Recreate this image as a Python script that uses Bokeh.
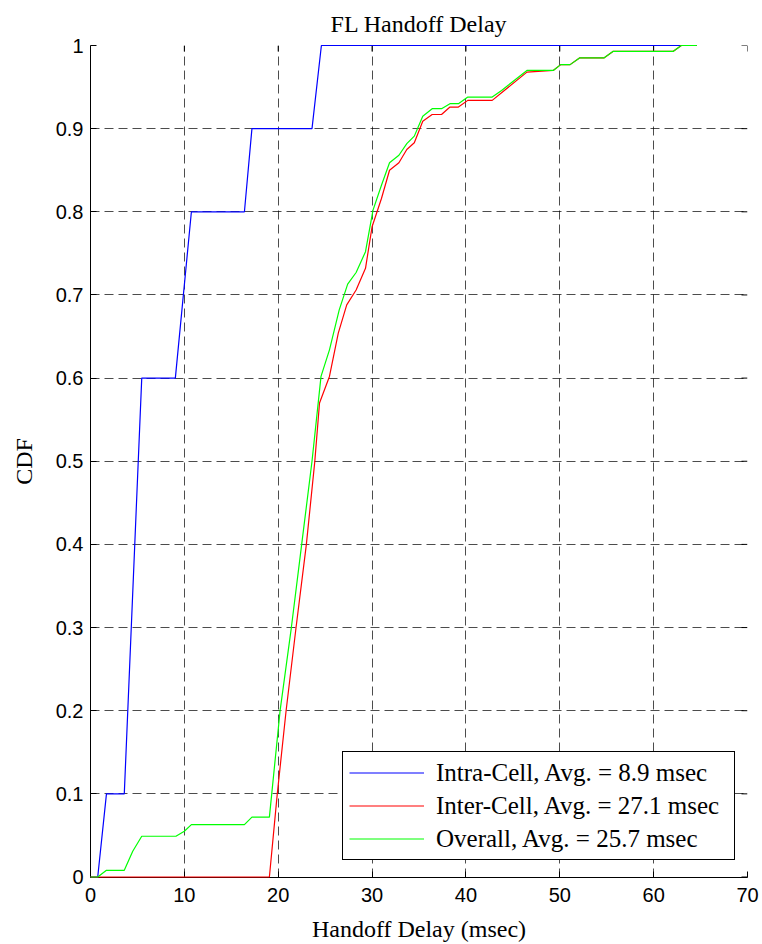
import math
from bokeh.plotting import figure
from bokeh.models import (Range1d, FixedTicker, NumeralTickFormatter,
                          Legend, LegendItem)
from bokeh.embed import file_html
from bokeh.resources import INLINE

# ---- data ----
intra_x = [0, 0.77, 1.7, 3.6, 5.46, 9.04, 10.75, 16.4, 17.2, 23.6, 24.6, 64.6]
intra_y = [0, 0, 0.1, 0.1, 0.6, 0.6, 0.8, 0.8, 0.9, 0.9, 1.0, 1.0]

inter_x = [0, 19.06, 19.9, 20.84, 21.9, 23.0, 23.9, 24.4, 25.46, 26.4, 27.3, 28.3,
           29.3, 30.0, 31.0, 31.86, 32.86, 33.7, 34.5, 35.4, 36.4, 37.4, 38.3, 39.2,
           40.2, 42.8, 46.5, 49.3, 50.1, 51.1, 52.1, 54.7, 55.7, 62.1, 62.95, 64.6]
inter_y = [0, 0, 0.1, 0.2, 0.3, 0.4, 0.5, 0.570, 0.602, 0.654, 0.688, 0.706,
           0.732, 0.782, 0.816, 0.850, 0.859, 0.875, 0.883, 0.909, 0.917, 0.917, 0.926, 0.926,
           0.934, 0.934, 0.968, 0.970, 0.977, 0.977, 0.985, 0.985, 0.993, 0.993, 1.0, 1.0]

overall_x = [0, 0.77, 1.7, 3.6, 4.5, 5.46, 9.1, 10.0, 10.75, 16.4, 17.2, 19.06,
             20.2, 21.4, 22.5, 23.6, 24.56, 25.46, 26.5, 27.4, 28.3, 29.3, 30.1, 31.0,
             31.86, 32.86, 33.7, 34.5, 35.4, 36.4, 37.4, 38.3, 39.2, 40.2, 42.8, 43.8,
             44.6, 46.5, 49.3, 50.1, 51.1, 52.1, 54.7, 55.7, 62.1, 62.95, 64.6]
overall_y = [0, 0, 0.008, 0.008, 0.031, 0.049, 0.049, 0.055, 0.063, 0.063, 0.072, 0.072,
             0.2, 0.3, 0.4, 0.5, 0.602, 0.634, 0.682, 0.713, 0.727, 0.752, 0.802, 0.832,
             0.859, 0.868, 0.882, 0.891, 0.915, 0.924, 0.924, 0.930, 0.930, 0.938, 0.938, 0.946,
             0.953, 0.970, 0.970, 0.977, 0.977, 0.985, 0.985, 0.993, 0.993, 1.0, 1.0]

series_labels = ["Intra-Cell, Avg. = 8.9 msec",
                 "Inter-Cell, Avg. = 27.1 msec",
                 "Overall, Avg. = 25.7 msec"]

x_ticks = [0, 10, 20, 30, 40, 50, 60, 70]
y_ticks = [0, 0.1, 0.2, 0.3, 0.4, 0.5, 0.6, 0.7, 0.8, 0.9, 1.0]
x_min, x_max = 0, 70
y_min, y_max = -0.0006, 1   # tiny pad so the y=0 segments sit on the axis

title_text = "FL Handoff Delay"
x_label = "Handoff Delay (msec)"
y_label = "CDF"

SERIF = "Liberation Serif"
SANS = "Liberation Sans"

p = figure(width=762, height=944, output_backend="svg", toolbar_location=None,
           x_range=Range1d(x_min, x_max), y_range=Range1d(y_min, y_max),
           min_border_left=90, min_border_right=15, min_border_top=45, min_border_bottom=66)
p.background_fill_color = "white"
p.border_fill_color = "white"
p.outline_line_color = None

p.title.text = title_text
p.title.align = "center"
p.title.vertical_align = "top"
p.title.text_line_height = 0.4
p.title.text_font = SERIF
p.title.text_font_size = "24px"
p.title.text_font_style = "normal"
p.title.text_color = "black"
p.title.standoff = 14

xt = FixedTicker(ticks=x_ticks)
yt = FixedTicker(ticks=y_ticks)
fmt = NumeralTickFormatter(format="0.[0]")

for ax, tk in ((p.xaxis[0], xt), (p.yaxis[0], yt)):
    ax.ticker = tk
    ax.formatter = fmt
    ax.major_tick_in = 6
    ax.major_tick_out = 0
    ax.minor_tick_line_color = None
    ax.axis_line_color = "black"
    ax.major_tick_line_color = "black"
    ax.major_label_text_font = SANS
    ax.major_label_text_font_size = "20px"
    ax.major_label_text_color = "black"
    ax.axis_label_text_font = SERIF
    ax.axis_label_text_font_size = "24px"
    ax.axis_label_text_font_style = "normal"
    ax.axis_label_text_color = "black"

p.xaxis.axis_label = x_label
p.yaxis.axis_label = y_label
p.xaxis.major_label_standoff = 10
p.yaxis.major_label_standoff = 7
p.xaxis.axis_label_standoff = 11
p.yaxis.axis_label_standoff = 16

p.xgrid.ticker = xt
p.ygrid.ticker = yt
p.grid.grid_line_color = "black"
p.grid.grid_line_alpha = 0.7
p.grid.grid_line_dash = "9 5"
p.grid.grid_line_width = 1

# inward tick marks on the top and right sides (no box line there)
p.ray(x=x_ticks, y=[y_max] * len(x_ticks), length=6, length_units="screen",
      angle=-math.pi / 2, line_color="black", line_width=1)
p.ray(x=[x_max] * len(y_ticks), y=y_ticks, length=6, length_units="screen",
      angle=math.pi, line_color="black", line_width=1)

r1 = p.line(intra_x, intra_y, line_color="#0000FF", line_width=1.2, level="overlay")
r2 = p.line(inter_x, inter_y, line_color="#FF0000", line_width=1.2, level="overlay")
r3 = p.line(overall_x, overall_y, line_color="#00FF00", line_width=1.2, level="overlay")

legend = Legend(items=[LegendItem(label=series_labels[0], renderers=[r1]),
                       LegendItem(label=series_labels[1], renderers=[r2]),
                       LegendItem(label=series_labels[2], renderers=[r3])],
                location=(252, 17))
legend.label_text_font = SERIF
legend.label_text_font_size = "25px"
legend.label_text_color = "black"
legend.glyph_width = 75
legend.glyph_height = 29
legend.label_height = 29
legend.label_standoff = 12
legend.label_width = 292
legend.padding = 6
legend.spacing = 4
legend.margin = 0
legend.border_line_color = "black"
legend.border_line_width = 1
legend.border_line_alpha = 1
legend.background_fill_color = "white"
legend.background_fill_alpha = 1
p.add_layout(legend)

open("out.html", "w").write(file_html(p, INLINE))
